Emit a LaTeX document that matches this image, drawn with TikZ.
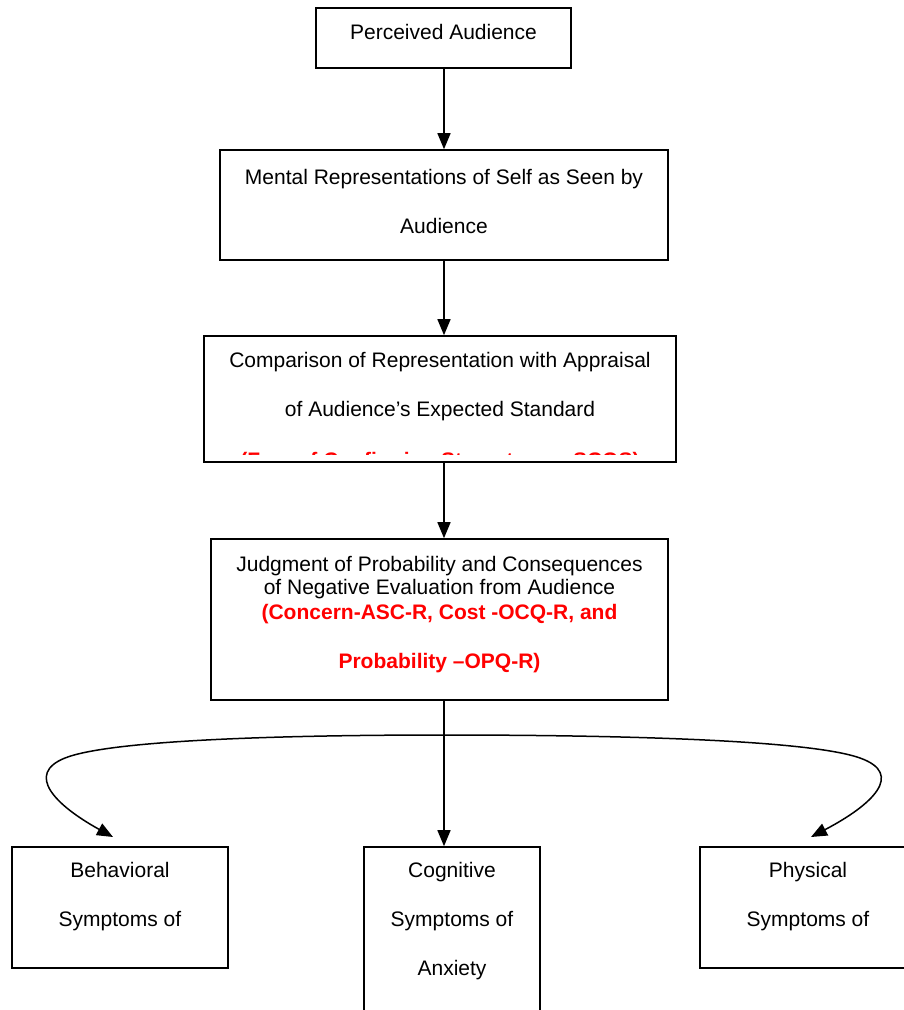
\documentclass[tikz,border=0pt]{standalone}
\usepackage{fontspec}
\setmainfont{Liberation Sans}
\usetikzlibrary{arrows.meta}
\begin{document}
\begin{tikzpicture}[x=1pt,y=-1pt,
  box/.style={draw, line width=1.6pt, inner sep=0pt, fill=none},
  txt/.style={anchor=base, inner sep=0pt, font=\fontsize{21}{25}\selectfont},
  red/.style={txt, text=red, font=\fontsize{21}{25}\selectfont\bfseries},
  conn/.style={line width=1.5pt, -{Triangle[length=16pt,width=13pt]}}]
\useasboundingbox (0,0) rectangle (904,1010);
\clip (0,0) rectangle (904,1010);
% boxes
\node[box, minimum width=255pt, minimum height=60pt] (b1) at (443.5,38) {};
\node[box, minimum width=448pt, minimum height=110pt] (b2) at (444,205) {};
\node[box, minimum width=472pt, minimum height=126pt] (b3) at (440,399) {};
\node[box, minimum width=457pt, minimum height=161pt] (b4) at (439.5,619.5) {};
\node[box, minimum width=216pt, minimum height=121pt] (beh) at (120,907.5) {};
\node[box, minimum width=176pt, minimum height=200pt] (cog) at (452,947) {};
\node[box, minimum width=216pt, minimum height=121pt] (phy) at (808,907.5) {};
% texts
\node[txt] (t1) at (443.5,39) {Perceived Audience};
\node[txt] (t2a) at (444,184) {Mental Representations of Self as Seen by};
\node[txt] (t2b) at (444,233) {Audience};
\node[txt] (t3a) at (440,367) {Comparison of Representation with Appraisal};
\node[txt] (t3b) at (440,416) {of Audience’s Expected Standard};
\begin{scope}
\clip (204,336) rectangle (676,454);
\node[red] (t3c) at (440,467) {(Fear of Confirming Stereotypes, SCOS)};
\end{scope}
\node[txt] (t4a) at (439.5,571) {Judgment of Probability and Consequences};
\node[txt] (t4b) at (439.5,594.5) {of Negative Evaluation from Audience};
\node[red] (t4c) at (439.5,619) {(Concern-ASC-R, Cost -OCQ-R, and};
\node[red] (t4d) at (439.5,668) {Probability –OPQ-R)};
\node[txt] (tba) at (120,877) {Behavioral};
\node[txt] (tbb) at (120,926) {Symptoms of};
\node[txt] (tca) at (452,877) {Cognitive};
\node[txt] (tcb) at (452,926) {Symptoms of};
\node[txt] (tcc) at (452,975) {Anxiety};
\node[txt] (tpa) at (808,877) {Physical};
\node[txt] (tpb) at (808,926) {Symptoms of};
% connectors
\coordinate (ax) at (444,0);
\draw[conn] (b1.south -| ax) -- (b2.north -| ax);
\draw[conn] (b2.south -| ax) -- (b3.north -| ax);
\draw[conn] (b3.south -| ax) -- (b4.north -| ax);
\draw[conn] (b4.south -| ax) -- (cog.north -| ax);
\coordinate (split) at (444,735);
\coordinate (lend) at (113,837);
\coordinate (rend) at (811,837);
\draw[conn] (split) .. controls (300,735) and (113,739) .. (65,758)
  .. controls (25,774) and (55,805) .. (lend);
\draw[conn] (split) .. controls (602,735) and (807,739) .. (860,758)
  .. controls (905,774) and (872,805) .. (rend);
\end{tikzpicture}
\end{document}
